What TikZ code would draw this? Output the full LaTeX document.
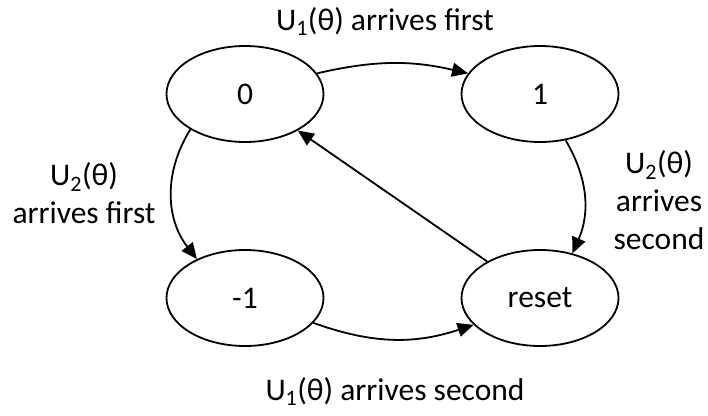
\documentclass[tikz,border=0pt]{standalone}
\usepackage{fontspec}
\setmainfont{Carlito}
\usetikzlibrary{arrows.meta,shapes.geometric}
\begin{document}
\begin{tikzpicture}[x=1pt,y=1pt,
  every node/.style={font=\fontsize{31.5}{38}\selectfont},
  state/.style={ellipse,draw,line width=1.8pt,minimum width=157pt,minimum height=96pt,inner sep=0pt},
  arr/.style={line width=1.8pt,-{Triangle[length=16pt,width=14pt]}},
  lbl/.style={align=center,inner sep=0pt}]
\useasboundingbox (0,0) rectangle (708,-415);
\node[state] (n0) at (245,-94) {0};
\node[state] (n1) at (540,-94) {1};
\node[state] (nm) at (245,-298) {-1};
\node[state] (nr) at (540,-298) {reset};
\draw[arr] (n0.16) to[bend left=13] (n1.164);
\draw[arr] (n0.213) to[bend right=35] (nm.141);
\draw[arr] (n1.-61) to[bend left=27] (nr.54);
\draw[arr] (nm.-20) to[bend right=19] (nr.-158);
\draw[arr] (nr) -- (n0);
\node[lbl,anchor=base] (lt) at (385,-30) {U\textsubscript{1}(θ) arrives first};
\node[lbl,anchor=base] (lb) at (395,-400) {U\textsubscript{1}(θ) arrives second};
\node[lbl] (ll) at (84,-193) {U\textsubscript{2}(θ)\\arrives first};
\node[lbl] (lr) at (659,-200) {U\textsubscript{2}(θ)\\arrives\\second};
\end{tikzpicture}
\end{document}
